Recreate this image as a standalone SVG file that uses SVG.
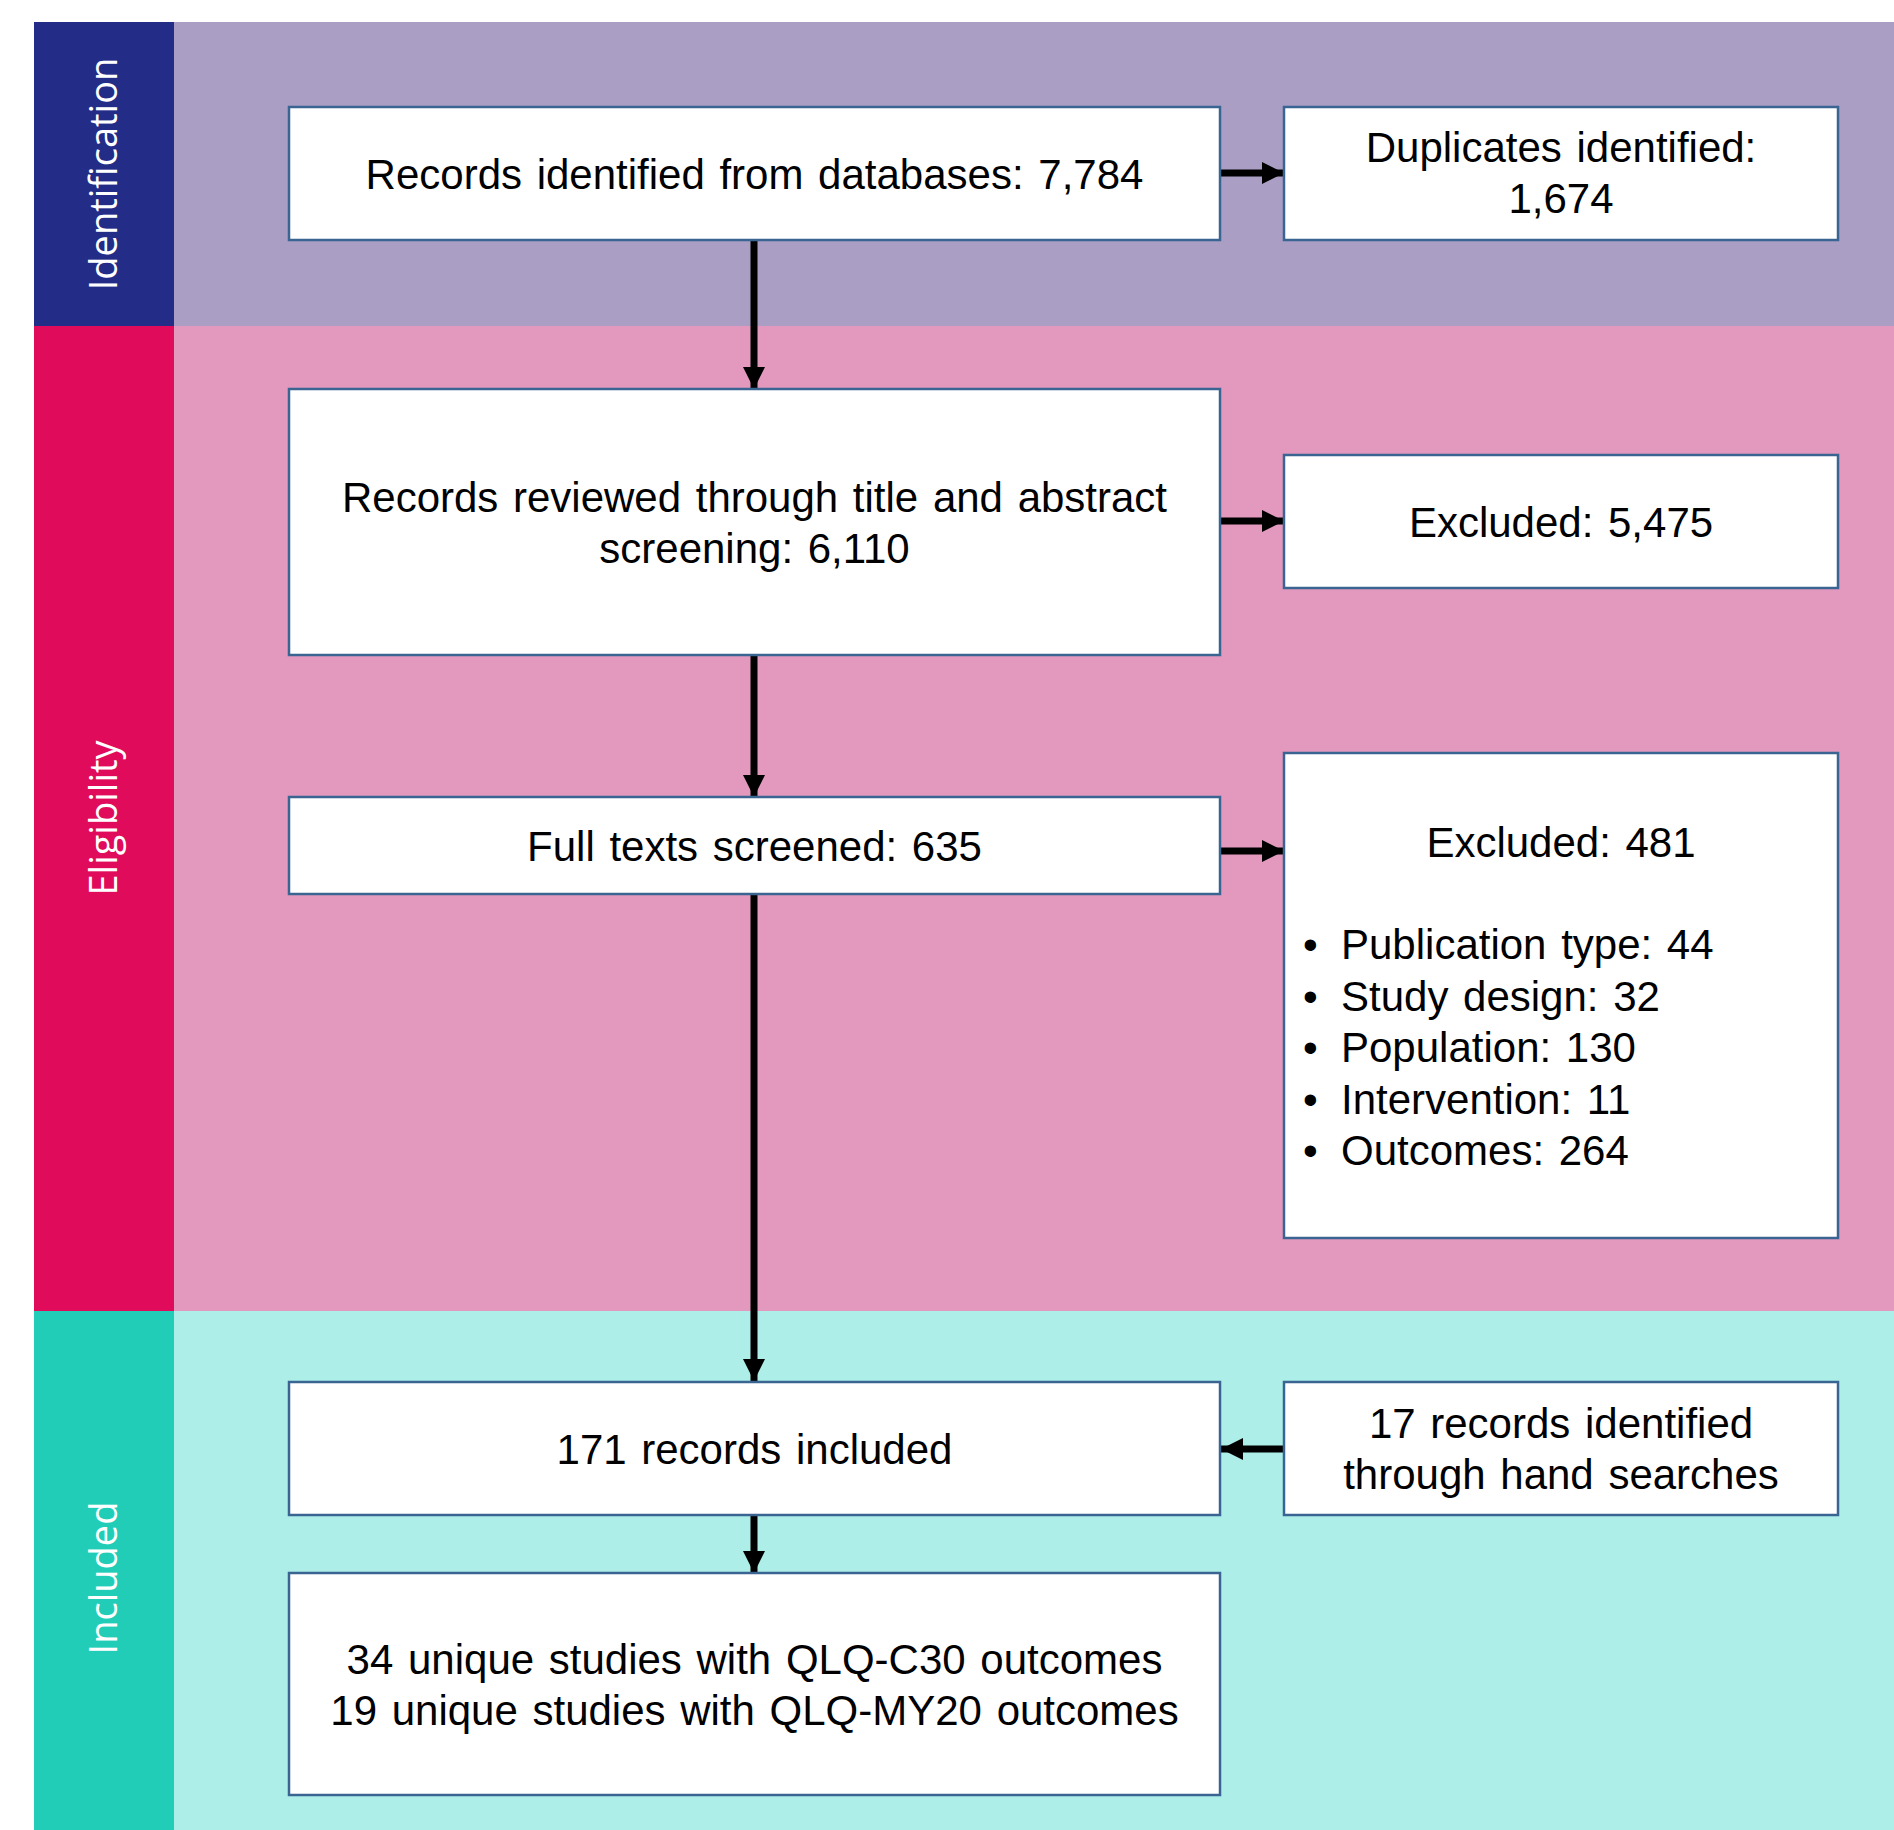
<svg xmlns="http://www.w3.org/2000/svg" width="1894" height="1830" viewBox="0 0 1894 1830">
<defs>
<style>
.box{fill:#ffffff;stroke:#3A6592;stroke-width:2.5}
.t{font-family:"Liberation Sans",Arial,sans-serif;font-size:42px;fill:#000000;text-anchor:middle;word-spacing:3px}
.tl{font-family:"Liberation Sans",Arial,sans-serif;font-size:42px;fill:#000000;word-spacing:3px}
.lab{font-family:"Open Sans","DejaVu Sans",sans-serif;font-size:38px;fill:#ffffff;text-anchor:middle}
.conn{stroke:#000000;stroke-width:7;fill:none}
</style>
<marker id="ah" markerUnits="userSpaceOnUse" markerWidth="22" markerHeight="22" refX="22" refY="11" orient="auto">
<path d="M0,0 L22,11 L0,22 Z" fill="#000000"/>
</marker>
</defs>
<rect x="0" y="0" width="1894" height="1830" fill="#ffffff"/>
<g id="bands">
<rect x="174" y="22" width="1720" height="304" fill="#AA9EC4"/>
<rect x="174" y="326" width="1720" height="985" fill="#E398BD"/>
<rect x="174" y="1311" width="1720" height="519" fill="#ADEEE9"/>
<rect x="34" y="22" width="140" height="304" fill="#232C87"/>
<rect x="34" y="326" width="140" height="985" fill="#E00B5A"/>
<rect x="34" y="1311" width="140" height="519" fill="#22CDB8"/>
<text class="lab" transform="translate(117,174) rotate(-90)">Identification</text>
<text class="lab" transform="translate(117,818) rotate(-90)">Eligibility</text>
<text class="lab" transform="translate(117,1578) rotate(-90)">Included</text>
</g>
<g id="connectors">
<line class="conn" x1="754" y1="240" x2="754" y2="389" marker-end="url(#ah)"/>
<line class="conn" x1="754" y1="655" x2="754" y2="797" marker-end="url(#ah)"/>
<line class="conn" x1="754" y1="894" x2="754" y2="1381" marker-end="url(#ah)"/>
<line class="conn" x1="754" y1="1515" x2="754" y2="1573" marker-end="url(#ah)"/>
<line class="conn" x1="1220" y1="173" x2="1284" y2="173" marker-end="url(#ah)"/>
<line class="conn" x1="1220" y1="521" x2="1284" y2="521" marker-end="url(#ah)"/>
<line class="conn" x1="1220" y1="851" x2="1284" y2="851" marker-end="url(#ah)"/>
<line class="conn" x1="1284" y1="1449" x2="1221" y2="1449" marker-end="url(#ah)"/>
</g>
<g id="records-identified">
<rect class="box" x="289" y="107" width="931" height="133"/>
<text class="t" x="754.5" y="189">Records identified from databases: 7,784</text>
</g>
<g id="duplicates">
<rect class="box" x="1284" y="107" width="554" height="133"/>
<text class="t" x="1561" y="162">Duplicates identified:</text>
<text class="t" x="1561" y="213">1,674</text>
</g>
<g id="records-reviewed">
<rect class="box" x="289" y="389" width="931" height="266"/>
<text class="t" x="754.5" y="512">Records reviewed through title and abstract</text>
<text class="t" x="754.5" y="563">screening: 6,110</text>
</g>
<g id="excluded-1">
<rect class="box" x="1284" y="455" width="554" height="133"/>
<text class="t" x="1561" y="537">Excluded: 5,475</text>
</g>
<g id="full-texts">
<rect class="box" x="289" y="797" width="931" height="97"/>
<text class="t" x="754.5" y="861">Full texts screened: 635</text>
</g>
<g id="excluded-2">
<rect class="box" x="1284" y="753" width="554" height="485"/>
<text class="t" x="1561" y="857">Excluded: 481</text>
<text class="tl" x="1303" y="959">•</text><text class="tl" x="1341" y="959">Publication type: 44</text>
<text class="tl" x="1303" y="1011">•</text><text class="tl" x="1341" y="1011">Study design: 32</text>
<text class="tl" x="1303" y="1062">•</text><text class="tl" x="1341" y="1062">Population: 130</text>
<text class="tl" x="1303" y="1114">•</text><text class="tl" x="1341" y="1114">Intervention: 11</text>
<text class="tl" x="1303" y="1165">•</text><text class="tl" x="1341" y="1165">Outcomes: 264</text>
</g>
<g id="records-included">
<rect class="box" x="289" y="1382" width="931" height="133"/>
<text class="t" x="754.5" y="1464">171 records included</text>
</g>
<g id="hand-searches">
<rect class="box" x="1284" y="1382" width="554" height="133"/>
<text class="t" x="1561" y="1438">17 records identified</text>
<text class="t" x="1561" y="1489">through hand searches</text>
</g>
<g id="unique-studies">
<rect class="box" x="289" y="1573" width="931" height="222"/>
<text class="t" x="754.5" y="1674">34 unique studies with QLQ-C30 outcomes</text>
<text class="t" x="754.5" y="1725">19 unique studies with QLQ-MY20 outcomes</text>
</g>
</svg>
